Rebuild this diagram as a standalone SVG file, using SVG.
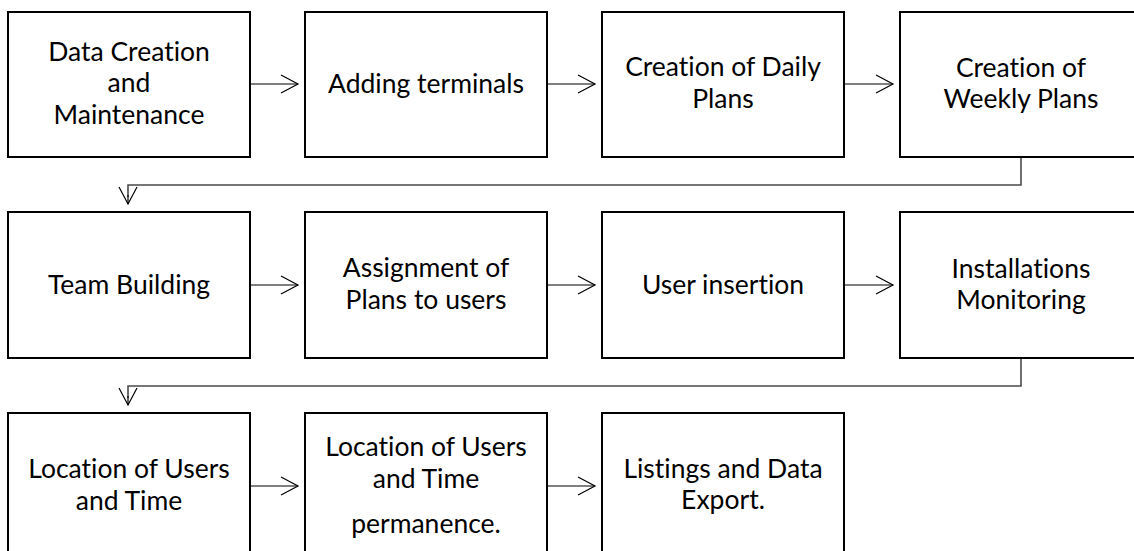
<svg xmlns="http://www.w3.org/2000/svg" width="1134" height="551" viewBox="0 0 1134 551">
<defs>
<style>
.box{fill:#fff;stroke:#000;stroke-width:2}
.t{font-family:Lato,"Open Sans","Liberation Sans",sans-serif;font-size:26.5px;fill:#000;text-anchor:middle;font-variant-ligatures:none;font-feature-settings:"liga" 0,"clig" 0}
.c{fill:none;stroke:#000;stroke-width:1.2}
.fb{fill:none;stroke:#4a4a4a;stroke-width:1.6}
</style>
<marker id="ah" viewBox="0 0 20 20" refX="18" refY="10" markerWidth="20" markerHeight="20" markerUnits="userSpaceOnUse" orient="auto">
<path d="M1,1 L18,10 L1,19" fill="none" stroke="#000" stroke-width="1.2"/>
</marker>
</defs>
<rect width="1134" height="551" fill="#fff"/>
<g id="connectors">
<line class="c" x1="250" y1="84" x2="298" y2="84" marker-end="url(#ah)"/>
<line class="c" x1="547" y1="84" x2="595" y2="84" marker-end="url(#ah)"/>
<line class="c" x1="844" y1="84" x2="893" y2="84" marker-end="url(#ah)"/>
<path class="fb" d="M1021,157 V185 H128 V197"/>
<line class="c" x1="128" y1="195" x2="128" y2="204" marker-end="url(#ah)"/>
<line class="c" x1="250" y1="285" x2="298" y2="285" marker-end="url(#ah)"/>
<line class="c" x1="547" y1="285" x2="595" y2="285" marker-end="url(#ah)"/>
<line class="c" x1="844" y1="285" x2="893" y2="285" marker-end="url(#ah)"/>
<path class="fb" d="M1021,358 V386 H128 V398"/>
<line class="c" x1="128" y1="396" x2="128" y2="405" marker-end="url(#ah)"/>
<line class="c" x1="250" y1="486" x2="298" y2="486" marker-end="url(#ah)"/>
<line class="c" x1="547" y1="486" x2="595" y2="486" marker-end="url(#ah)"/>
</g>
<g id="n1"><rect class="box" x="8" y="12" width="242" height="145"/>
<text class="t" x="129" y="61">Data Creation</text><text class="t" x="129" y="92">and</text><text class="t" x="129" y="124">Maintenance</text></g>
<g id="n2"><rect class="box" x="305" y="12" width="242" height="145"/>
<text class="t" x="426" y="93">Adding terminals</text></g>
<g id="n3"><rect class="box" x="602" y="12" width="242" height="145"/>
<text class="t" x="723" y="76">Creation of Daily</text><text class="t" x="723" y="108">Plans</text></g>
<g id="n4"><rect class="box" x="900" y="12" width="244" height="145"/>
<text class="t" x="1021" y="77">Creation of</text><text class="t" x="1021" y="108">Weekly Plans</text></g>
<g id="n5"><rect class="box" x="8" y="212" width="242" height="146"/>
<text class="t" x="129" y="294">Team Building</text></g>
<g id="n6"><rect class="box" x="305" y="212" width="242" height="146"/>
<text class="t" x="426" y="277">Assignment of</text><text class="t" x="426" y="309">Plans to users</text></g>
<g id="n7"><rect class="box" x="602" y="212" width="242" height="146"/>
<text class="t" x="723" y="294">User insertion</text></g>
<g id="n8"><rect class="box" x="900" y="212" width="244" height="146"/>
<text class="t" x="1021" y="278">Installations</text><text class="t" x="1021" y="309">Monitoring</text></g>
<g id="n9"><rect class="box" x="8" y="413" width="242" height="150"/>
<text class="t" x="129" y="478">Location of Users</text><text class="t" x="129" y="510">and Time</text></g>
<g id="n10"><rect class="box" x="305" y="413" width="242" height="150"/>
<text class="t" x="426" y="456">Location of Users</text><text class="t" x="426" y="488">and Time</text><text class="t" x="426" y="533">permanence.</text></g>
<g id="n11"><rect class="box" x="602" y="413" width="242" height="150"/>
<text class="t" x="723" y="478">Listings and Data</text><text class="t" x="723" y="509">Export.</text></g>
</svg>
